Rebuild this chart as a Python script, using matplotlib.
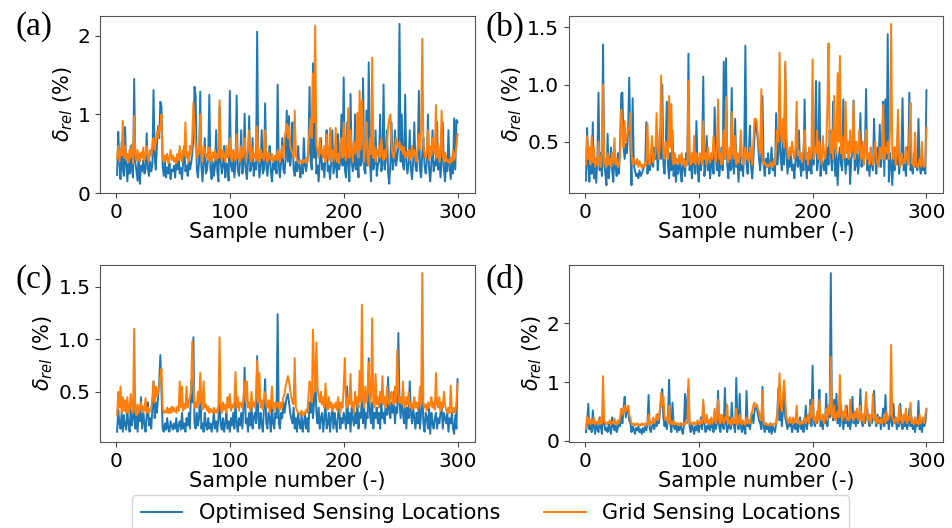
import numpy as np
import matplotlib
matplotlib.use("Agg")
import matplotlib.pyplot as plt

# sample index 1..300
samples = np.arange(1, 301)

# (a) relative error, optimised vs grid sensor locations
opt_a = [
    0.23, 0.78, 0.40, 0.18, 0.65, 0.30, 0.22, 0.84, 0.35, 0.15,
    0.38, 0.25, 0.60, 0.30, 0.20, 1.45, 0.40, 0.28, 0.16, 0.50,
    0.12, 0.35, 0.28, 0.42, 0.25, 0.30, 0.76, 0.32, 0.22, 0.40,
    0.28, 0.36, 1.31, 0.45, 0.30, 0.60, 0.85, 0.70, 1.16, 1.10,
    0.35, 0.22, 0.40, 0.20, 0.33, 0.25, 0.38, 0.18, 0.30, 0.28,
    0.35, 0.20, 0.42, 0.30, 0.50, 0.25, 0.32, 0.18, 0.40, 0.60,
    0.28, 0.35, 0.22, 0.45, 0.30, 0.38, 0.50, 0.70, 1.35, 1.23,
    0.30, 0.20, 0.40, 1.29, 0.35, 0.15, 0.38, 0.70, 0.25, 0.30,
    0.45, 1.25, 0.30, 0.18, 0.40, 0.22, 0.35, 0.80, 0.28, 0.15,
    1.10, 0.40, 0.25, 0.35, 0.60, 0.20, 0.38, 0.30, 0.16, 1.30,
    0.35, 0.28, 0.45, 0.20, 0.38, 1.24, 0.30, 0.22, 0.40, 0.80,
    0.25, 0.35, 1.01, 0.30, 0.18, 0.40, 0.98, 0.28, 0.35, 0.70,
    0.22, 0.38, 0.30, 2.05, 0.40, 0.20, 0.35, 0.80, 0.25, 0.30,
    1.14, 0.35, 0.22, 0.40, 0.60, 0.28, 0.15, 0.38, 0.30, 0.45,
    0.25, 1.38, 0.35, 0.20, 0.40, 0.70, 0.30, 0.25, 0.45, 1.05,
    0.40, 0.98, 0.35, 0.50, 0.90, 0.30, 0.22, 0.40, 0.28, 0.60,
    0.32, 0.20, 0.38, 0.25, 0.70, 0.35, 0.28, 0.40, 0.50, 1.35,
    0.40, 0.30, 1.65, 0.45, 1.00, 0.25, 0.35, 0.15, 0.40, 0.70,
    0.30, 0.38, 0.20, 0.45, 0.80, 0.28, 0.35, 0.18, 0.40, 0.80,
    0.25, 0.35, 0.45, 0.20, 0.75, 0.30, 0.40, 1.00, 0.35, 1.47,
    0.30, 0.20, 0.90, 0.35, 0.15, 1.26, 0.40, 0.28, 0.35, 1.00,
    0.30, 0.45, 0.20, 0.90, 0.35, 0.40, 1.46, 0.30, 0.25, 1.05,
    0.35, 1.66, 0.40, 0.15, 1.20, 0.30, 0.38, 0.80, 0.22, 0.35,
    0.40, 1.00, 0.28, 0.35, 1.38, 0.30, 0.45, 0.80, 0.25, 0.12,
    0.38, 0.90, 0.30, 0.40, 0.80, 0.35, 0.45, 0.60, 2.15, 0.40,
    1.00, 0.35, 0.30, 1.25, 0.40, 0.25, 0.38, 0.80, 0.30, 0.18,
    0.40, 0.90, 0.35, 0.28, 0.45, 1.30, 0.30, 0.20, 0.50, 0.70,
    0.35, 0.25, 0.40, 1.00, 0.30, 0.15, 0.38, 0.80, 0.28, 0.40,
    0.35, 0.90, 0.30, 0.45, 0.20, 0.38, 0.90, 0.30, 0.15, 0.40,
    0.28, 0.80, 0.35, 0.18, 0.40, 0.25, 0.95, 0.30, 0.93, 0.90,
]
grid_a = [
    0.45, 0.60, 0.40, 0.55, 0.48, 0.92, 0.45, 0.60, 0.42, 0.50,
    0.40, 0.55, 0.45, 0.62, 0.38, 0.98, 0.50, 0.42, 0.55, 0.45,
    0.40, 0.52, 0.45, 0.58, 0.42, 0.50, 0.60, 0.45, 0.40, 0.55,
    0.48, 0.62, 0.70, 0.55, 0.65, 0.78, 0.70, 0.85, 0.80, 1.00,
    0.45, 0.40, 0.48, 0.42, 0.50, 0.38, 0.45, 0.55, 0.42, 0.48,
    0.40, 0.45, 0.38, 0.50, 0.42, 0.60, 0.45, 0.40, 0.55, 0.48,
    0.90, 0.45, 0.52, 0.40, 0.60, 0.48, 0.70, 1.15, 0.80, 0.60,
    0.45, 0.55, 0.50, 1.00, 0.48, 0.40, 0.60, 0.55, 0.45, 0.50,
    0.42, 0.58, 0.48, 0.40, 0.52, 0.45, 0.55, 0.42, 0.50, 0.45,
    1.18, 0.50, 0.42, 0.55, 0.48, 0.40, 0.60, 0.45, 0.50, 0.70,
    0.45, 0.40, 0.55, 0.48, 0.42, 0.75, 0.45, 0.50, 0.40, 0.60,
    0.45, 0.52, 0.70, 0.42, 0.48, 0.55, 0.80, 0.45, 0.40, 0.58,
    0.45, 0.50, 0.42, 0.85, 0.48, 0.40, 0.55, 0.45, 0.50, 0.42,
    0.80, 0.48, 0.40, 0.52, 0.45, 0.42, 0.50, 0.40, 0.45, 0.48,
    0.42, 0.55, 0.45, 0.40, 0.50, 0.60, 0.45, 0.70, 0.78, 0.88,
    0.70, 0.85, 0.60, 0.55, 0.50, 0.45, 1.05, 0.48, 0.42, 0.40,
    0.38, 0.42, 0.40, 0.38, 0.42, 0.40, 0.45, 0.38, 0.60, 0.80,
    0.95, 0.70, 1.52, 0.90, 2.13, 0.60, 0.55, 0.45, 0.70, 0.50,
    0.55, 0.45, 0.60, 0.40, 0.75, 0.50, 0.42, 0.83, 0.48, 0.40,
    0.55, 0.45, 0.83, 0.40, 0.50, 0.38, 0.60, 0.70, 0.45, 0.90,
    0.50, 0.42, 0.60, 1.08, 0.45, 0.80, 0.55, 0.40, 0.65, 0.50,
    0.60, 1.02, 0.45, 1.30, 0.55, 1.18, 0.70, 0.40, 0.60, 0.90,
    0.45, 0.35, 0.70, 0.50, 1.72, 0.45, 0.60, 0.40, 0.55, 0.48,
    0.60, 0.45, 0.70, 0.50, 0.42, 0.55, 0.45, 0.60, 0.85, 0.95,
    1.00, 0.60, 0.50, 0.45, 0.55, 0.70, 0.62, 0.58, 0.65, 0.55,
    0.60, 0.50, 0.58, 0.45, 0.52, 0.48, 0.55, 0.42, 0.50, 0.60,
    0.45, 0.55, 0.50, 0.40, 0.60, 0.75, 0.55, 0.80, 1.96, 0.60,
    0.50, 0.45, 0.55, 0.80, 0.42, 0.60, 0.48, 0.70, 0.55, 0.50,
    1.12, 0.45, 0.60, 0.40, 0.55, 1.05, 0.48, 0.40, 0.52, 0.45,
    0.40, 0.42, 0.38, 0.45, 0.40, 0.55, 0.42, 0.48, 0.60, 0.75,
]

# (b)
opt_b = [
    0.16, 0.62, 0.30, 0.15, 0.40, 0.22, 0.67, 0.18, 0.30, 0.14,
    0.35, 0.93, 0.25, 0.40, 0.20, 1.35, 0.30, 0.22, 0.12, 0.57,
    0.18, 0.30, 0.45, 0.25, 0.15, 0.35, 0.28, 0.20, 0.40, 0.22,
    0.50, 0.92, 0.93, 0.45, 0.35, 0.48, 0.40, 0.60, 1.06, 0.45,
    0.12, 0.88, 0.30, 0.25, 0.20, 0.22, 0.18, 0.25, 0.20, 0.22,
    0.25, 0.28, 0.30, 0.67, 0.22, 0.35, 0.25, 0.40, 0.30, 0.28,
    0.45, 0.35, 0.50, 0.25, 0.40, 0.60, 0.35, 1.00, 0.30, 0.22,
    0.45, 0.85, 0.30, 0.18, 0.40, 0.25, 0.60, 0.20, 0.35, 0.15,
    0.30, 0.22, 0.38, 0.25, 0.15, 0.35, 0.28, 0.20, 0.40, 0.30,
    1.27, 0.25, 0.35, 0.18, 0.30, 0.45, 0.22, 0.68, 0.28, 0.15,
    0.35, 0.25, 0.40, 1.07, 0.20, 0.30, 0.55, 0.25, 0.35, 0.18,
    0.30, 0.40, 0.22, 0.80, 0.35, 0.25, 0.60, 0.20, 0.30, 0.45,
    0.25, 1.20, 0.35, 1.23, 0.30, 0.18, 0.40, 0.25, 0.97, 0.30,
    0.22, 0.70, 0.28, 0.35, 0.15, 0.40, 0.25, 0.30, 0.20, 0.45,
    1.34, 0.30, 0.22, 0.40, 0.64, 0.28, 0.18, 0.35, 0.55, 0.68,
    0.60, 0.50, 0.35, 0.25, 0.40, 0.90, 0.30, 0.20, 0.35, 0.28,
    0.40, 0.22, 0.30, 0.45, 0.25, 0.35, 0.20, 0.75, 0.30, 0.40,
    0.87, 0.35, 0.25, 0.50, 0.30, 1.17, 0.40, 0.22, 0.35, 0.28,
    0.40, 0.25, 0.30, 0.18, 0.35, 0.45, 0.28, 0.60, 0.30, 0.20,
    0.35, 0.25, 0.87, 0.30, 0.18, 0.40, 0.25, 0.35, 0.22, 0.50,
    0.30, 0.45, 1.03, 0.25, 0.35, 1.02, 0.20, 0.40, 0.30, 0.25,
    0.35, 0.22, 0.45, 0.30, 0.60, 0.40, 0.25, 0.85, 0.35, 0.20,
    0.40, 0.12, 0.35, 0.45, 0.30, 0.25, 0.87, 0.40, 0.22, 0.35,
    0.30, 0.45, 0.13, 0.35, 0.40, 0.86, 0.25, 0.30, 0.40, 0.22,
    0.35, 0.75, 0.28, 0.40, 0.30, 0.45, 0.96, 0.25, 0.35, 0.20,
    0.40, 0.30, 0.25, 0.70, 0.35, 0.22, 0.45, 0.30, 0.65, 0.28,
    0.40, 0.85, 0.20, 0.87, 0.35, 1.44, 0.15, 0.40, 0.30, 0.12,
    0.35, 0.25, 0.45, 0.30, 0.62, 0.22, 0.35, 0.40, 0.88, 0.25,
    0.30, 0.20, 0.45, 0.35, 0.93, 0.25, 0.30, 0.22, 0.40, 0.28,
    0.35, 0.25, 0.70, 0.30, 0.22, 0.40, 0.25, 0.30, 0.22, 0.95,
]
grid_b = [
    0.30, 0.55, 0.35, 0.45, 0.30, 0.55, 0.32, 0.45, 0.28, 0.35,
    0.30, 0.50, 0.35, 0.28, 0.40, 1.00, 0.30, 0.35, 0.28, 0.40,
    0.30, 0.35, 0.28, 0.40, 0.32, 0.53, 0.30, 0.35, 0.28, 0.30,
    0.40, 0.78, 0.60, 0.45, 0.68, 0.50, 0.55, 0.60, 0.62, 0.75,
    0.40, 0.30, 0.35, 0.32, 0.30, 0.35, 0.28, 0.33, 0.30, 0.27,
    0.30, 0.28, 0.32, 0.30, 0.66, 0.35, 0.30, 0.40, 0.55, 0.32,
    0.35, 0.40, 0.75, 0.45, 0.35, 0.50, 1.08, 0.60, 0.40, 0.35,
    0.50, 0.40, 0.35, 0.90, 0.45, 0.83, 0.35, 0.30, 0.40, 0.32,
    0.35, 0.30, 0.38, 0.32, 0.40, 0.30, 0.35, 0.28, 0.33, 0.30,
    1.03, 0.35, 0.30, 0.40, 0.32, 0.55, 0.30, 0.40, 0.35, 0.30,
    0.40, 0.35, 0.30, 0.68, 0.35, 0.40, 0.30, 0.45, 0.35, 0.32,
    0.40, 0.35, 0.55, 0.40, 0.32, 0.45, 0.87, 0.35, 0.40, 0.30,
    0.45, 0.60, 0.35, 0.89, 0.40, 0.32, 0.45, 0.35, 0.76, 0.40,
    0.35, 0.55, 0.30, 0.40, 0.32, 0.38, 0.60, 0.35, 0.30, 0.40,
    0.45, 0.35, 0.40, 0.32, 0.45, 0.38, 0.30, 0.50, 0.70, 0.70,
    0.68, 0.55, 0.45, 0.40, 0.96, 0.35, 0.30, 0.32, 0.30, 0.28,
    0.30, 0.28, 0.32, 0.30, 0.28, 0.35, 0.30, 0.45, 0.60, 0.50,
    1.28, 0.60, 0.50, 0.70, 0.45, 1.20, 0.55, 0.40, 0.35, 0.45,
    0.38, 0.50, 0.40, 0.35, 0.45, 0.85, 0.38, 0.42, 0.35, 0.40,
    0.32, 0.45, 0.60, 0.35, 0.40, 0.30, 0.45, 0.35, 0.40, 1.22,
    0.35, 0.45, 0.40, 0.60, 0.35, 0.50, 0.40, 0.30, 0.55, 0.40,
    0.35, 0.45, 0.80, 1.36, 0.50, 0.40, 0.60, 0.35, 0.90, 0.45,
    0.40, 1.10, 0.50, 1.25, 0.40, 0.55, 0.35, 0.45, 0.85, 0.40,
    0.50, 0.35, 0.60, 0.40, 0.45, 0.85, 0.35, 0.50, 0.40, 0.45,
    0.60, 0.40, 0.35, 0.50, 0.30, 0.45, 0.60, 0.35, 0.40, 0.30,
    0.45, 0.35, 0.30, 0.40, 0.50, 0.35, 0.30, 0.28, 0.45, 0.35,
    0.40, 0.82, 0.35, 0.45, 0.40, 0.50, 0.35, 0.60, 1.53, 0.40,
    0.35, 0.45, 0.30, 0.40, 0.78, 0.35, 0.28, 0.40, 0.30, 0.35,
    0.32, 0.45, 0.35, 0.30, 0.55, 0.84, 0.35, 0.30, 0.28, 0.58,
    0.30, 0.28, 0.30, 0.35, 0.28, 0.50, 0.30, 0.28, 0.30, 0.62,
]

# (c)
opt_c = [
    0.12, 0.33, 0.20, 0.15, 0.30, 0.12, 0.28, 0.18, 0.14, 0.30,
    0.20, 0.12, 0.35, 0.18, 0.25, 0.45, 0.15, 0.28, 0.12, 0.30,
    0.22, 0.45, 0.15, 0.30, 0.20, 0.12, 0.28, 0.40, 0.18, 0.25,
    0.15, 0.35, 0.60, 0.25, 0.40, 0.30, 0.45, 0.60, 0.85, 0.50,
    0.15, 0.12, 0.20, 0.14, 0.25, 0.15, 0.12, 0.22, 0.18, 0.14,
    0.20, 0.15, 0.25, 0.12, 0.18, 0.22, 0.14, 0.30, 0.15, 0.20,
    0.12, 0.25, 0.18, 0.30, 0.15, 0.60, 0.40, 1.02, 0.20, 0.15,
    0.30, 0.18, 0.25, 0.62, 0.15, 0.20, 0.12, 0.30, 0.18, 0.14,
    0.25, 0.15, 0.20, 0.12, 0.18, 0.30, 0.15, 0.22, 0.12, 0.25,
    0.40, 0.18, 0.14, 0.25, 0.12, 0.20, 0.30, 0.15, 0.22, 0.12,
    0.25, 0.18, 0.30, 0.15, 0.40, 0.20, 0.12, 0.25, 0.18, 0.30,
    0.15, 0.35, 0.73, 0.20, 0.25, 0.12, 0.30, 0.18, 0.40, 0.15,
    0.25, 0.30, 0.20, 0.84, 0.25, 0.15, 0.30, 0.20, 0.12, 0.35,
    0.62, 0.20, 0.15, 0.30, 0.25, 0.12, 0.40, 0.20, 0.15, 0.30,
    0.25, 1.24, 0.20, 0.15, 0.30, 0.25, 0.40, 0.30, 0.38, 0.45,
    0.48, 0.40, 0.30, 0.25, 0.20, 0.35, 0.15, 0.25, 0.12, 0.30,
    0.20, 0.15, 0.28, 0.12, 0.20, 0.30, 0.15, 0.25, 0.12, 0.40,
    0.30, 0.55, 0.25, 0.40, 0.72, 0.30, 0.20, 0.35, 0.15, 0.25,
    0.30, 0.12, 0.25, 0.40, 0.15, 0.20, 0.30, 0.12, 0.25, 0.35,
    0.15, 0.30, 0.20, 0.12, 0.28, 0.40, 0.15, 0.25, 0.20, 0.30,
    0.25, 0.15, 0.55, 0.20, 0.30, 0.12, 0.35, 0.25, 0.18, 0.30,
    0.20, 0.40, 0.15, 0.30, 0.25, 0.45, 0.20, 0.35, 0.15, 0.30,
    0.25, 0.82, 0.30, 0.20, 0.40, 0.15, 0.30, 0.25, 0.35, 0.20,
    0.30, 0.15, 0.40, 0.25, 0.30, 0.20, 0.45, 0.28, 0.64, 0.30,
    0.25, 0.40, 0.30, 0.50, 0.20, 0.35, 0.30, 1.06, 0.40, 0.25,
    0.45, 0.30, 0.20, 0.40, 0.15, 0.35, 0.25, 0.60, 0.30, 0.20,
    0.35, 0.25, 0.15, 0.30, 0.20, 0.40, 0.15, 0.30, 0.50, 0.20,
    0.12, 0.30, 0.25, 0.15, 0.35, 0.10, 0.30, 0.20, 0.15, 0.25,
    0.30, 0.15, 0.25, 0.20, 0.30, 0.35, 0.15, 0.30, 0.25, 0.20,
    0.30, 0.12, 0.25, 0.20, 0.30, 0.15, 0.10, 0.28, 0.15, 0.62,
]
grid_c = [
    0.28, 0.50, 0.35, 0.55, 0.30, 0.45, 0.32, 0.42, 0.30, 0.45,
    0.30, 0.35, 0.48, 0.32, 0.30, 1.10, 0.32, 0.28, 0.38, 0.30,
    0.35, 0.40, 0.30, 0.36, 0.32, 0.44, 0.30, 0.35, 0.30, 0.33,
    0.35, 0.45, 0.60, 0.40, 0.55, 0.45, 0.50, 0.55, 0.65, 0.72,
    0.35, 0.30, 0.32, 0.30, 0.35, 0.30, 0.34, 0.30, 0.36, 0.31,
    0.35, 0.32, 0.30, 0.36, 0.32, 0.60, 0.35, 0.55, 0.32, 0.38,
    0.34, 0.55, 0.35, 0.40, 0.45, 0.50, 0.98, 0.60, 0.35, 0.40,
    0.35, 0.50, 0.38, 0.68, 0.40, 0.33, 0.60, 0.35, 0.38, 0.32,
    0.36, 0.30, 0.34, 0.32, 0.30, 0.35, 0.30, 0.33, 0.30, 0.38,
    1.02, 0.35, 0.30, 0.40, 0.33, 0.38, 0.30, 0.45, 0.35, 0.48,
    0.32, 0.38, 0.35, 0.40, 0.69, 0.35, 0.45, 0.32, 0.40, 0.38,
    0.35, 0.45, 0.60, 0.40, 0.60, 0.35, 0.40, 0.32, 0.50, 0.36,
    0.40, 0.35, 0.45, 0.80, 0.40, 0.68, 0.35, 0.42, 0.33, 0.45,
    0.50, 0.38, 0.35, 0.42, 0.30, 0.38, 0.55, 0.35, 0.32, 0.40,
    0.36, 0.40, 0.35, 0.33, 0.40, 0.35, 0.45, 0.48, 0.55, 0.60,
    0.65, 0.60, 0.52, 0.45, 0.40, 0.38, 0.82, 0.35, 0.32, 0.30,
    0.30, 0.28, 0.32, 0.30, 0.28, 0.30, 0.33, 0.30, 0.45, 0.60,
    0.55, 0.40, 1.09, 0.70, 0.50, 0.97, 0.55, 0.45, 0.40, 0.50,
    0.38, 0.45, 0.35, 0.58, 0.40, 0.33, 0.45, 0.35, 0.40, 0.32,
    0.38, 0.35, 0.40, 0.33, 0.45, 0.35, 0.30, 0.40, 0.35, 0.55,
    0.82, 0.40, 0.35, 0.45, 0.38, 0.67, 0.35, 0.40, 0.30, 0.50,
    0.38, 0.45, 0.35, 0.70, 0.40, 1.33, 0.45, 0.35, 0.55, 0.40,
    0.50, 0.78, 0.40, 0.45, 1.20, 0.40, 0.35, 0.67, 0.38, 0.45,
    0.35, 0.50, 0.40, 0.65, 0.38, 0.45, 0.35, 0.55, 0.40, 0.38,
    0.45, 0.50, 0.40, 0.38, 0.55, 0.40, 0.90, 0.50, 0.40, 0.45,
    0.38, 0.60, 0.40, 0.35, 0.45, 0.38, 0.50, 0.35, 0.40, 0.33,
    0.38, 0.45, 0.35, 0.40, 0.33, 0.40, 0.55, 0.38, 1.63, 0.40,
    0.35, 0.38, 0.32, 0.40, 0.35, 0.38, 0.45, 0.35, 0.40, 0.33,
    0.68, 0.38, 0.35, 0.45, 0.32, 0.40, 0.35, 0.50, 0.38, 0.33,
    0.30, 0.35, 0.30, 0.56, 0.33, 0.30, 0.35, 0.30, 0.40, 0.58,
]

# (d)
opt_d = [
    0.15, 0.30, 0.63, 0.20, 0.35, 0.15, 0.52, 0.25, 0.12, 0.30,
    0.20, 0.15, 0.40, 0.25, 0.12, 0.55, 0.30, 0.18, 0.22, 0.15,
    0.30, 0.20, 0.12, 0.40, 0.25, 0.18, 0.30, 0.15, 0.22, 0.35,
    0.25, 0.45, 0.30, 0.55, 0.75, 0.40, 0.50, 0.60, 0.35, 0.30,
    0.15, 0.25, 0.20, 0.12, 0.22, 0.18, 0.25, 0.15, 0.20, 0.12,
    0.22, 0.15, 0.25, 0.18, 0.30, 0.78, 0.20, 0.15, 0.25, 0.30,
    0.20, 0.35, 0.25, 0.45, 0.30, 0.50, 0.70, 0.88, 0.40, 0.25,
    0.35, 0.20, 0.40, 1.04, 0.30, 0.15, 0.65, 0.25, 0.20, 0.30,
    0.15, 0.25, 0.18, 0.30, 0.20, 0.12, 0.25, 0.80, 0.30, 0.70,
    0.90, 0.25, 0.15, 0.30, 0.20, 0.12, 0.25, 0.18, 0.30, 0.15,
    0.25, 0.40, 0.20, 0.63, 0.30, 0.15, 0.25, 0.20, 0.35, 0.18,
    0.30, 0.25, 0.15, 0.50, 0.20, 0.30, 0.85, 0.25, 0.15, 0.35,
    0.25, 0.20, 0.90, 0.30, 0.15, 0.25, 0.40, 0.20, 0.65, 0.30,
    0.25, 0.15, 1.07, 0.30, 0.20, 0.80, 0.25, 0.15, 0.30, 0.20,
    0.12, 0.85, 0.25, 0.30, 0.20, 0.35, 0.45, 0.30, 0.50, 0.60,
    0.55, 0.45, 0.35, 0.30, 0.20, 0.92, 0.25, 0.15, 0.30, 0.20,
    0.25, 0.15, 0.30, 0.12, 0.25, 0.20, 0.15, 0.30, 0.45, 0.90,
    0.35, 0.60, 0.25, 0.50, 0.90, 0.40, 0.30, 0.20, 0.35, 0.25,
    0.30, 0.15, 0.25, 0.35, 0.20, 0.30, 0.15, 0.25, 0.40, 0.20,
    0.30, 0.15, 0.25, 0.60, 0.20, 0.35, 0.30, 0.70, 0.25, 1.28,
    0.35, 0.25, 0.40, 0.30, 0.50, 0.87, 0.25, 0.35, 0.20, 0.40,
    0.30, 0.80, 0.25, 0.60, 0.40, 2.85, 0.50, 0.35, 0.70, 0.40,
    0.80, 0.30, 0.45, 0.25, 0.60, 0.35, 0.20, 0.40, 0.30, 0.60,
    0.25, 0.40, 0.20, 0.35, 0.75, 0.30, 0.45, 0.25, 0.50, 0.30,
    0.40, 0.88, 0.35, 0.25, 0.45, 0.30, 0.40, 0.55, 0.35, 0.25,
    0.40, 0.30, 0.50, 0.85, 0.35, 0.25, 0.45, 0.30, 0.40, 0.20,
    0.35, 0.55, 0.25, 0.78, 0.30, 0.40, 0.20, 0.50, 0.35, 0.25,
    0.63, 0.30, 0.40, 0.20, 0.35, 0.25, 0.63, 0.30, 0.20, 0.40,
    0.25, 0.35, 0.20, 0.30, 0.55, 0.25, 0.40, 0.20, 0.30, 0.15,
    0.35, 0.25, 0.68, 0.20, 0.30, 0.15, 0.35, 0.25, 0.30, 0.52,
]
grid_d = [
    0.22, 0.42, 0.30, 0.38, 0.28, 0.35, 0.30, 0.40, 0.28, 0.32,
    0.30, 0.35, 0.28, 0.40, 0.30, 1.10, 0.35, 0.30, 0.28, 0.32,
    0.30, 0.35, 0.28, 0.32, 0.30, 0.38, 0.28, 0.30, 0.35, 0.30,
    0.40, 0.55, 0.45, 0.50, 0.60, 0.50, 0.55, 0.60, 0.45, 0.38,
    0.30, 0.28, 0.30, 0.26, 0.28, 0.30, 0.27, 0.28, 0.26, 0.30,
    0.27, 0.28, 0.30, 0.26, 0.30, 0.45, 0.28, 0.32, 0.30, 0.40,
    0.30, 0.35, 0.45, 0.35, 0.40, 0.55, 0.82, 0.60, 0.75, 0.45,
    0.35, 0.40, 0.30, 0.60, 0.35, 0.30, 0.28, 0.35, 0.28, 0.30,
    0.28, 0.30, 0.26, 0.28, 0.30, 0.27, 0.30, 0.28, 0.35, 0.30,
    1.05, 0.35, 0.28, 0.30, 0.28, 0.32, 0.28, 0.30, 0.35, 0.30,
    0.28, 0.35, 0.30, 0.70, 0.35, 0.30, 0.45, 0.30, 0.35, 0.28,
    0.40, 0.30, 0.35, 0.55, 0.30, 0.40, 0.70, 0.35, 0.30, 0.45,
    0.35, 0.30, 0.40, 0.35, 0.62, 0.30, 0.35, 0.28, 0.40, 0.30,
    0.35, 0.30, 0.55, 0.28, 0.32, 0.45, 0.30, 0.28, 0.35, 0.30,
    0.28, 0.40, 0.30, 0.35, 0.30, 0.45, 0.50, 0.60, 0.65, 0.58,
    0.62, 0.55, 0.48, 0.40, 0.35, 0.85, 0.30, 0.28, 0.30, 0.27,
    0.28, 0.26, 0.30, 0.28, 0.27, 0.30, 0.28, 0.30, 0.45, 0.70,
    1.15, 0.60, 0.50, 0.80, 1.03, 0.70, 0.40, 0.35, 0.30, 0.40,
    0.35, 0.30, 0.40, 0.30, 0.35, 0.60, 0.30, 0.35, 0.28, 0.32,
    0.30, 0.35, 0.40, 0.30, 0.35, 0.45, 0.30, 0.60, 0.40, 0.70,
    0.35, 0.40, 0.30, 0.50, 0.35, 0.70, 0.40, 0.35, 0.45, 0.30,
    0.40, 0.55, 0.35, 0.60, 0.45, 1.43, 0.50, 0.40, 0.60, 0.35,
    0.45, 0.50, 0.40, 1.12, 0.45, 0.35, 0.50, 0.40, 0.60, 0.35,
    0.40, 0.35, 0.70, 0.40, 0.45, 0.35, 0.50, 0.40, 0.55, 0.35,
    0.40, 0.60, 0.35, 0.45, 0.30, 0.50, 0.83, 0.40, 0.35, 0.45,
    0.30, 0.40, 0.80, 0.35, 0.45, 0.30, 0.40, 0.35, 0.30, 0.38,
    0.30, 0.35, 0.45, 0.30, 0.50, 0.35, 0.40, 0.45, 1.63, 0.40,
    0.35, 0.30, 0.40, 0.35, 0.30, 0.60, 0.35, 0.40, 0.30, 0.45,
    0.35, 0.55, 0.30, 0.40, 0.35, 0.65, 0.30, 0.35, 0.28, 0.40,
    0.30, 0.35, 0.28, 0.45, 0.30, 0.35, 0.40, 0.30, 0.45, 0.55,
]

panel_labels = ["(a)", "(b)", "(c)", "(d)"]
yticks = [[0, 1, 2], [0.5, 1.0, 1.5], [0.5, 1.0, 1.5], [0, 1, 2]]
ytick_labels = [["0", "1", "2"], ["0.5", "1.0", "1.5"],
                ["0.5", "1.0", "1.5"], ["0", "1", "2"]]
xticks = [0, 100, 200, 300]
series = [(opt_a, grid_a), (opt_b, grid_b), (opt_c, grid_c), (opt_d, grid_d)]

fig = plt.figure(figsize=(9.53, 5.28), dpi=100)

# axes rectangles [left, bottom, width, height] in figure fraction
rects = [
    [0.105, 0.634, 0.393, 0.336],
    [0.597, 0.634, 0.393, 0.336],
    [0.105, 0.163, 0.393, 0.335],
    [0.597, 0.163, 0.393, 0.335],
]
label_pos = [(0.016, 0.978), (0.509, 0.978), (0.016, 0.500), (0.509, 0.500)]

lines = []
for i, (opt, grid) in enumerate(series):
    ax = fig.add_axes(rects[i])
    l1, = ax.plot(samples, opt, color="#1f77b4", lw=1.4,
                  label="Optimised Sensing Locations")
    l2, = ax.plot(samples, grid, color="#ff7f0e", lw=1.4,
                  label="Grid Sensing Locations")
    ax.set_xticks(xticks)
    ax.set_yticks(yticks[i])
    ax.set_yticklabels(ytick_labels[i])
    ax.tick_params(labelsize=14.5, color="#444444")
    ax.set_xlabel("Sample number (-)", fontsize=15, labelpad=0)
    ax.set_ylabel(r"$\delta_{rel}$ (%)", fontsize=15, labelpad=2)
    for s in ax.spines.values():
        s.set_color("#555555")
    fig.text(label_pos[i][0], label_pos[i][1], panel_labels[i],
             family="Liberation Serif", fontsize=24, va="top", ha="left")
    lines = [l1, l2]

fig.legend(lines, [l.get_label() for l in lines], loc="upper center",
           bbox_to_anchor=(0.515, 0.083), ncol=2, fontsize=15,
           handlelength=2.0, columnspacing=2.1, frameon=True)

fig.savefig("out.png", dpi=100)
